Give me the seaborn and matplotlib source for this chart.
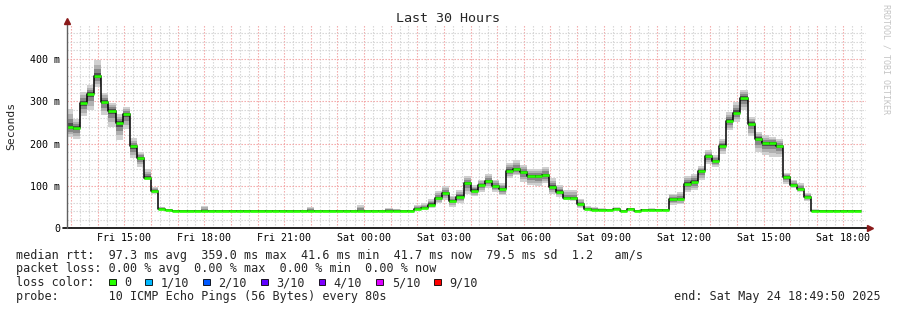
import numpy as np
import matplotlib
matplotlib.use("Agg")
import matplotlib.pyplot as plt
import seaborn as sns
from matplotlib.patches import Rectangle
from matplotlib.ticker import MultipleLocator

# ---------------- data ----------------
step_minutes = 16
first_step_start = 12.8          # Fri 12:48, hours since Fri 00:00
view_start = 12 + 49/60 + 50/3600
view_end = view_start + 30

median_ms = [
    239, 236, 296, 317, 359, 299, 277, 248, 269, 194,
    165, 119, 88, 46, 42.5, 41.7, 41.6, 41.7, 41.7, 41.8,
    41.7, 41.7, 41.7, 41.7, 41.7, 41.7, 41.7, 41.7, 41.7, 41.7,
    41.7, 41.7, 41.7, 41.7, 41.7, 41.7, 41.7, 41.7, 41.7, 41.7,
    41.7, 41.6, 41.7, 41.7, 41.7, 41.8, 41.7, 41.7, 41.6, 46,
    48, 56, 71, 83, 65, 75, 106, 89, 103, 111,
    100, 92, 136, 139, 132, 123, 123, 125, 97, 86,
    71, 71, 57, 45, 44, 43, 42.5, 45, 41, 45,
    41, 43, 43, 43, 42, 68, 69, 105, 109, 135,
    170, 159, 195, 253, 273, 307, 247, 211, 201, 201,
    194, 120, 102, 93, 75, 41.7, 41.7, 41.7, 41.7, 41.6,
    41.7, 41.7,
]
smoke_lo_ms = [
    215, 210, 264, 278, 333, 267, 239, 208, 235, 165,
    145, 114, 82, 43, 42, 41.3, 41.3, 41.3, 41.3, 41.3,
    41.3, 41.3, 41.3, 41.3, 41.3, 41.3, 41.3, 41.3, 41.3, 41.3,
    41.3, 41.3, 41.3, 41.3, 41.3, 41.3, 41.3, 41.3, 41.3, 41.3,
    41.3, 41.3, 41.3, 41.3, 41.3, 41.3, 41.3, 41.3, 41.3, 43,
    45, 49, 59, 67, 51, 59, 81, 76, 86, 94,
    86, 78, 118, 125, 110, 102, 100, 106, 82, 75,
    67, 65, 49, 42, 42, 42, 41.5, 42, 40.8, 42,
    40.8, 42, 42, 42, 41.5, 55, 57, 86, 90, 113,
    151, 145, 176, 231, 251, 278, 217, 180, 172, 168,
    168, 104, 95, 86, 65, 41, 41.3, 41.3, 41.3, 41.3,
    41.3, 41.3,
]
smoke_hi_ms = [
    281, 257, 322, 337, 396, 319, 296, 269, 286, 212,
    180, 139, 98, 51, 45, 42.3, 42.3, 42.3, 42.3, 52,
    42.3, 42.3, 42.3, 42.3, 42.3, 42.3, 42.3, 42.3, 42.3, 42.3,
    42.3, 42.3, 42.3, 42.3, 50, 42.3, 42.3, 42.3, 42.3, 42.3,
    42.3, 55, 42.3, 42.3, 42.3, 48, 46, 42.3, 42.3, 55,
    59, 69, 89, 100, 76, 90, 123, 102, 114, 129,
    115, 107, 153, 161, 149, 141, 139, 145, 118, 102,
    90, 90, 69, 53, 50, 47, 44, 50, 43, 49,
    43, 46, 47, 46, 44, 82, 86, 123, 129, 146,
    184, 172, 211, 274, 298, 327, 262, 227, 219, 215,
    211, 131, 115, 107, 84, 45, 42.5, 42.5, 42.5, 42.5,
    42.5, 42.5,
]

tick_hours = [15, 18, 21, 24, 27, 30, 33, 36, 39, 42]
tick_labels = ["Fri 15:00", "Fri 18:00", "Fri 21:00", "Sat 00:00", "Sat 03:00",
               "Sat 06:00", "Sat 09:00", "Sat 12:00", "Sat 15:00", "Sat 18:00"]
ytick_values = [0, 100, 200, 300, 400]
ytick_labels = ["0", "100 m", "200 m", "300 m", "400 m"]

title = "Last 30 Hours"
ylabel = "Seconds"
legend_lines = [
    "median rtt:  97.3 ms avg  359.0 ms max  41.6 ms min  41.7 ms now  79.5 ms sd  1.2   am/s",
    "packet loss: 0.00 % avg  0.00 % max  0.00 % min  0.00 % now",
    "loss color:",
    "probe:       10 ICMP Echo Pings (56 Bytes) every 80s",
]
end_text = "end: Sat May 24 18:49:50 2025"
loss_labels = ["0", "1/10", "2/10", "3/10", "4/10", "5/10", "9/10"]
loss_colors = ["#26ff00", "#00b8ff", "#0059ff", "#5e00ff", "#7e00ff", "#dd00ff", "#ff0000"]
watermark = "RRDTOOL / TOBI OETIKER"

# ---------------- figure ----------------
sns.set_style("white")
MONO = "DejaVu Sans Mono"
plt.rcParams["font.family"] = [MONO]

W, H = 897, 310
fig = plt.figure(figsize=(W / 100, H / 100), dpi=100)
fig.patch.set_facecolor("white")

def fx(px):
    return px / W

def fy(py):
    return 1 - py / H

x_left, x_right = 66.7, 865.5
y_zero, y_top = 228.3, 25
ax = fig.add_axes([fx(x_left), fy(y_zero), (x_right - x_left) / W, (y_zero - y_top) / H])
ax.set_facecolor("white")

ax.set_xlim(view_start, view_end)
ax.set_ylim(0, 479.5)

med = np.asarray(median_ms, dtype=float)
lo = np.asarray(smoke_lo_ms, dtype=float)
hi = np.asarray(smoke_hi_ms, dtype=float)
n = len(med)
edges = first_step_start + np.arange(n + 1) * step_minutes / 60.0

def ext(a):
    return np.append(a, a[-1])

# smoke layers (outer light -> inner dark)
layers = [(1.0, "#d0d0d0"), (0.72, "#b0b0b0"), (0.45, "#888888"), (0.2, "#505050")]
for frac, col in layers:
    lower = med - frac * (med - lo)
    upper = med + frac * (hi - med)
    ax.fill_between(edges, ext(lower), ext(upper), step="post", color=col,
                    linewidth=0, zorder=2)

# black median step line
sns.lineplot(x=edges, y=ext(med), drawstyle="steps-post", color="black",
             linewidth=1.1, estimator=None, ax=ax, zorder=3)
# green loss-coloured median segments
ax.hlines(med, edges[:-1], edges[1:], colors=loss_colors[0], linewidth=1.9, zorder=4)

# grid
hours = np.arange(13, 43)
xlabels = [tick_labels[tick_hours.index(h)] if h in tick_hours else "" for h in hours]
ax.set_xticks(hours, xlabels)
ax.xaxis.set_minor_locator(MultipleLocator(1 / 3))
ax.set_yticks(ytick_values, ytick_labels)
ax.yaxis.set_minor_locator(MultipleLocator(20))
ax.set_axisbelow(True)
ax.grid(which="major", color="#f2a0a0", linestyle=(0, (1.2, 1.5)), linewidth=0.8)
ax.grid(which="minor", color="#d2d2d2", linestyle=(0, (1.2, 1.5)), linewidth=0.8)

ax.tick_params(axis="x", which="both", length=0, pad=3.6, labelsize=7.2, colors="black")
ax.tick_params(axis="y", which="major", length=3, width=0.8, color="#404040",
               pad=1.6, labelsize=7.2, labelcolor="black")
ax.tick_params(axis="y", which="minor", length=0)
for lab in ax.get_xticklabels() + ax.get_yticklabels():
    lab.set_fontfamily(MONO)

for s in ax.spines.values():
    s.set_visible(False)

# axes lines with arrows
ax.plot([-0.005, 1.006], [0, 0], transform=ax.transAxes, color="black",
        linewidth=1.2, clip_on=False, zorder=5)
ax.plot([0, 0], [0, 1.01], transform=ax.transAxes, color="#606060",
        linewidth=1.0, clip_on=False, zorder=5)
ax.plot([0], [1.02], marker="^", markersize=4, color="#8b1a1a",
        transform=ax.transAxes, clip_on=False, zorder=6)
ax.plot([1.0055], [0], marker=">", markersize=4, color="#8b1a1a",
        transform=ax.transAxes, clip_on=False, zorder=6)

# titles
fig.text(fx(448), fy(19), title, ha="center", va="center", fontsize=9.6, family=MONO)
fig.text(fx(11), fy(126), ylabel, ha="center", va="center", rotation=90,
         fontsize=8.2, family=MONO)
fig.text(fx(886), fy(4), watermark, ha="center", va="top", rotation=270,
         fontsize=6, family=MONO, color="#c4c4c4")

# legend block
line_y = [255, 268.5, 282.5, 296.5]
for txt, yy in zip(legend_lines, line_y):
    fig.text(fx(15.5), fy(yy), txt, ha="left", va="center", fontsize=8.5, family=MONO)
fig.text(fx(880.5), fy(line_y[3]), end_text, ha="right", va="center", fontsize=8.5, family=MONO)

char_w = 7.09
bx = 108.7
box = 6.8
for lab, col in zip(loss_labels, loss_colors):
    fig.patches.append(Rectangle((fx(bx), fy(line_y[2] + box / 2 - 0.5)), box / W, box / H,
                                 transform=fig.transFigure, facecolor=col,
                                 edgecolor="black", linewidth=0.6))
    fig.text(fx(bx + 15.3), fy(line_y[2]), lab, ha="left", va="center",
             fontsize=8.5, family=MONO)
    bx += (len(lab) + 4.15) * char_w

fig.savefig("out.png", dpi=100, facecolor="white")
